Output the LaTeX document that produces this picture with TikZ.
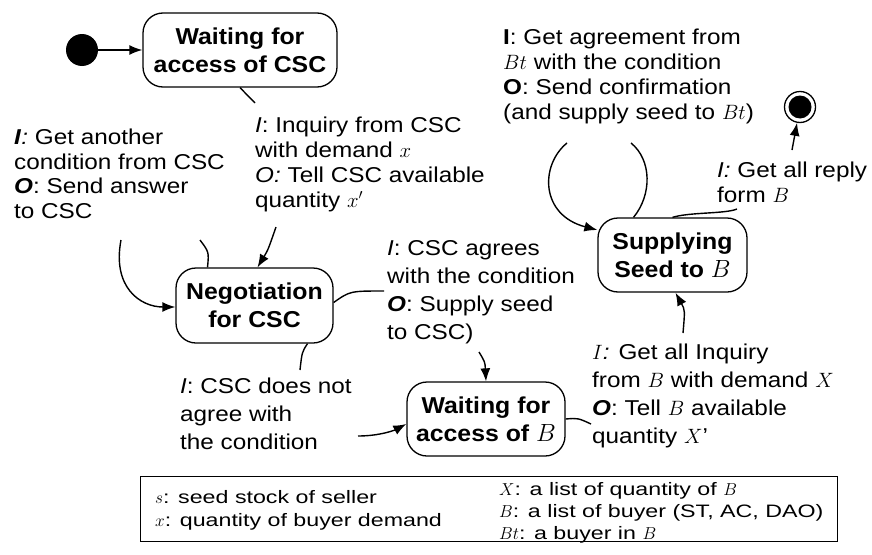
\documentclass[tikz,border=0pt]{standalone}
\usepackage{fontspec}
\setmainfont{Liberation Sans}[FakeStretch=1.13]
\newfontfamily\boxfont{Liberation Sans}[FakeStretch=1.08]
\newfontfamily\legfont{Liberation Sans}[FakeStretch=1.29]
\usetikzlibrary{arrows.meta,calc}

\tikzset{
  state/.style={draw, rounded corners=20pt, line width=1.3pt, align=center,
    inner sep=0pt, font=\boxfont\fontsize{23}{28}\selectfont\bfseries},
  lbl/.style={anchor=north west, inner sep=0pt, align=left,
    font=\fontsize{21.5}{24.8}\selectfont},
  lblwide/.style={lbl, font=\fontsize{21.5}{28}\selectfont},
  legtext/.style={anchor=base west, inner sep=0pt, font=\legfont\fontsize{18}{22}\selectfont},
  flow/.style={line width=1.4pt},
  arr/.style={flow, -{Latex[length=13pt,width=10pt]}},
}

\begin{document}
\begin{tikzpicture}[x=1pt,y=-1pt]
\useasboundingbox (0,0) rectangle (872,554);

% states
\node[circle, fill, minimum size=32pt, inner sep=0pt] (init) at (82,50) {};
\node[state, minimum width=194pt, minimum height=74pt] (wcsc) at (240,50) {Waiting for\\access of CSC};
\node[state, minimum width=157pt, minimum height=75pt] (neg) at (254.5,305.5) {Negotiation\\for CSC};
\node[state, minimum width=158pt, minimum height=74pt] (wB) at (486,419) {Waiting for\\access of $B$};
\node[state, minimum width=149pt, minimum height=74pt] (sup) at (672.5,255) {Supplying\\Seed to $B$};
\node[circle, draw, line width=1.3pt, minimum size=31pt, inner sep=0pt] (fin) at (800,107) {};
\node[circle, fill, minimum size=23pt, inner sep=0pt] (finc) at (fin) {};

% transition labels
\node[lbl] (l1) at (14,128.5) {\textbf{\textit{I}}\textit{:} Get another\\condition from CSC\\\textbf{\textit{O}}: Send answer\\to CSC};
\node[lbl] (l2) at (255,117) {\textit{I}: Inquiry from CSC\\with demand $x$\\\textit{O:} Tell CSC available\\quantity $x'$};
\node[lbl] (l3) at (503,29) {\textbf{I}: Get agreement from\\$Bt$ with the condition\\\textbf{O}: Send confirmation\\(and supply seed to $Bt$)};
\node[lbl] (l4) at (717,162) {\textit{I:} Get all reply\\form $B$};
\node[lblwide] (l5) at (387,240) {\textit{I}: CSC agrees\\with the condition\\\textbf{\textit{O}}: Supply seed\\to CSC)};
\node[lblwide] (l6) at (180,378) {\textit{I}: CSC does not\\agree with\\the condition};
\node[lblwide] (l7) at (592,344) {$I$\textit{:} Get all Inquiry\\from $B$ with demand $X$\\\textbf{\textit{O}}: Tell $B$ available\\quantity $X$'};

% free ends of the transitions, at the labels
\coordinate (q1) at (255,103);
\coordinate (q2) at (276,227);
\coordinate (g1) at (200,240);
\coordinate (g2) at (121,240);
\coordinate (a1) at (384,291);
\coordinate (a2) at (479,352);
\coordinate (d1) at (300,370);
\coordinate (d2) at (358,436);
\coordinate (b1) at (591,424);
\coordinate (b2) at (683,333);
\coordinate (s1) at (631,143);
\coordinate (s2) at (567,143);
\coordinate (r1) at (737,209);
\coordinate (r2) at (792,150);

% transitions
\draw[arr] (init) -- (wcsc);

\draw[flow] (wcsc.south) -- (q1);
\draw[arr] (q2) .. controls (268,250) .. ($(neg.north)+(3,0)$);

\draw[flow] ($(neg.north)+(-47,0)$) .. controls (209,252) .. (g1);
\draw[arr] (g2) .. controls (112,287) and (140,307) .. ($(neg.west)+(0,1.5)$);

\draw[flow] ($(neg.east)+(0,-3)$) .. controls (350,291) .. (a1);
\draw[arr] (a2) .. controls (485,362) .. (wB.north);

\draw[flow] ($(neg.south)+(53,0)$) .. controls (302,352) .. (d1);
\draw[arr] (d2) .. controls (380,436) and (395,430) .. ($(wB.west)+(0,5)$);

\draw[flow] (wB.east) .. controls (578,418) .. (b1);
\draw[arr] (b2) .. controls (685,310) .. ($(sup.south)+(3,0)$);

\draw[flow] ($(sup.north)+(-39,0)$) .. controls (652,195) and (652,160) .. (s1);
\draw[arr] (s2) .. controls (540,165) and (540,215) .. ($(sup.west)+(0,-25)$);

\draw[flow] (sup.north) .. controls (690,212) and (725,214) .. (r1);
\draw[arr] (r2) -- (fin);

% legend
\node[draw, line width=1pt, minimum width=697pt, minimum height=65pt, inner sep=0pt] (legend) at (488.5,508.5) {};
\node[legtext] (ls) at (155,503) {$s$: seed stock of seller};
\node[legtext] (lx) at (155,526) {$x$: quantity of buyer demand};
\node[legtext] (lX) at (499,495) {$X$: a list of quantity of $B$};
\node[legtext] (lB) at (499,517) {$B$: a list of buyer (ST, AC, DAO)};
\node[legtext] (lBt) at (499,539) {$Bt$: a buyer in $B$};
\end{tikzpicture}
\end{document}
